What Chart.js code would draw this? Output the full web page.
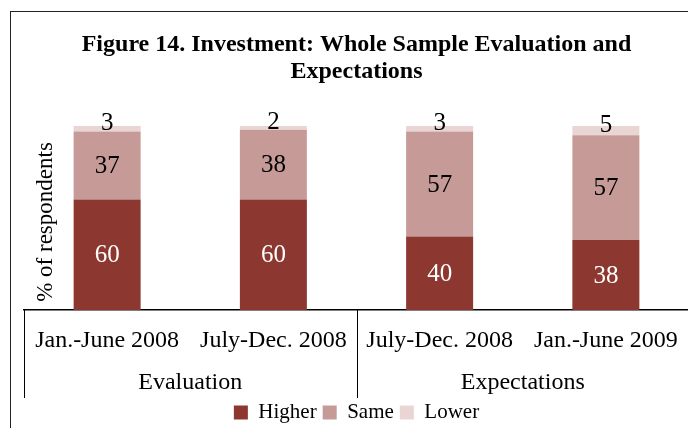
<!DOCTYPE html>
<html>
<head>
<meta charset="utf-8">
<script src="https://cdn.jsdelivr.net/npm/chart.js@4/dist/chart.umd.min.js"></script>
<style>
  html, body { margin: 0; padding: 0; background: #fff; overflow: hidden; }
  #wrap { width: 716px; height: 428px; position: relative; }
</style>
</head>
<body>
<div id="wrap"><canvas id="c" width="716" height="428"></canvas></div>
<script>
const categories = ['Jan.-June 2008', 'July-Dec. 2008', 'July-Dec. 2008', 'Jan.-June 2009'];
const groups = ['Evaluation', 'Expectations'];
const groupSizes = [2, 2];
const higher = [60, 60, 40, 38];
const same = [37, 38, 57, 57];
const lower = [3, 2, 3, 5];
const seriesNames = ['Higher', 'Same', 'Lower'];
const titleLines = ['Figure 14. Investment: Whole Sample Evaluation and', 'Expectations'];
const yTitle = '% of respondents';

const SERIF = "'Liberation Serif', 'Times New Roman', serif";
const colors = ['#8C372F', '#C69B97', '#E9D6D4'];

const framePlugin = {
  id: 'frame',
  beforeDraw(chart) {
    const ctx = chart.ctx;
    ctx.save();
    ctx.strokeStyle = '#222';
    ctx.lineWidth = 1;
    ctx.strokeRect(10.5, 11.5, chart.width - 21, chart.height + 20);
    ctx.restore();
  }
};

const labelPlugin = {
  id: 'segLabels',
  afterDatasetsDraw(chart) {
    const ctx = chart.ctx;
    ctx.save();
    ctx.font = '25px ' + SERIF;
    ctx.textAlign = 'center';
    ctx.textBaseline = 'middle';
    chart.data.datasets.forEach((ds, di) => {
      const meta = chart.getDatasetMeta(di);
      meta.data.forEach((el, i) => {
        const v = ds.data[i];
        let y = (el.y + el.base) / 2;
        if (di === 2) y -= 6;
        ctx.fillStyle = di === 0 ? '#fff' : '#000';
        ctx.fillText(String(v), el.x, y + 1);
      });
    });
    ctx.restore();
  }
};

const axisExtras = {
  id: 'axisExtras',
  afterDraw(chart) {
    const ctx = chart.ctx;
    const xs = chart.scales.x;
    const area = chart.chartArea;
    const step = xs.getPixelForValue(1) - xs.getPixelForValue(0);
    ctx.save();
    ctx.font = '23px ' + SERIF;
    ctx.fillStyle = '#000';
    ctx.textAlign = 'center';
    ctx.textBaseline = 'middle';
    ctx.translate(area.left + 22, (area.top + area.bottom) / 2 + 4);
    ctx.rotate(-Math.PI / 2);
    ctx.fillText(yTitle, 0, 0);
    ctx.restore();

    ctx.save();
    ctx.strokeStyle = '#000';
    ctx.lineWidth = 1;
    const yTop = area.bottom;
    const yBot = area.bottom + 88;
    let idx = 0;
    const bounds = [xs.getPixelForValue(0) - step / 2];
    groupSizes.forEach((n, g) => {
      const first = idx, last = idx + n - 1;
      bounds.push(xs.getPixelForValue(last) + step / 2);
      const cx = (xs.getPixelForValue(first) + xs.getPixelForValue(last)) / 2;
      ctx.font = '24px ' + SERIF;
      ctx.fillStyle = '#000';
      ctx.textAlign = 'center';
      ctx.textBaseline = 'middle';
      ctx.fillText(groups[g], cx, area.bottom + 73);
      idx += n;
    });
    bounds.forEach(b => {
      const x = Math.round(b) + 0.5;
      ctx.beginPath();
      ctx.moveTo(x, yTop);
      ctx.lineTo(x, yBot);
      ctx.stroke();
    });
    ctx.restore();
  }
};

new Chart(document.getElementById('c'), {
  type: 'bar',
  data: {
    labels: categories,
    datasets: [
      { label: seriesNames[0], data: higher, backgroundColor: colors[0] },
      { label: seriesNames[1], data: same, backgroundColor: colors[1] },
      { label: seriesNames[2], data: lower, backgroundColor: colors[2] }
    ]
  },
  options: {
    responsive: false,
    animation: false,
    events: [],
    layout: { padding: { left: 24, right: 27, top: 0, bottom: -5 } },
    datasets: { bar: { categoryPercentage: 1, barPercentage: 0.403 } },
    scales: {
      x: {
        stacked: true,
        grid: { display: false, drawTicks: false },
        border: { display: true, color: '#000', width: 1.5 },
        ticks: { color: '#000', font: { family: SERIF, size: 24 }, padding: 16, maxRotation: 0, autoSkip: false },
        afterFit(scale) { scale.height = 86; }
      },
      y: {
        stacked: true,
        display: false,
        min: 0,
        max: 100
      }
    },
    plugins: {
      title: {
        display: true,
        text: titleLines,
        color: '#000',
        font: { family: SERIF, size: 24, weight: 'bold', lineHeight: 1.125 },
        padding: { top: 31, bottom: 41 }
      },
      legend: {
        position: 'bottom',
        labels: {
          color: '#000',
          font: { family: SERIF, size: 21 },
          boxWidth: 14,
          boxHeight: 14,
          padding: 6
        }
      },
      tooltip: { enabled: false }
    }
  },
  plugins: [framePlugin, labelPlugin, axisExtras]
});
</script>
</body>
</html>
